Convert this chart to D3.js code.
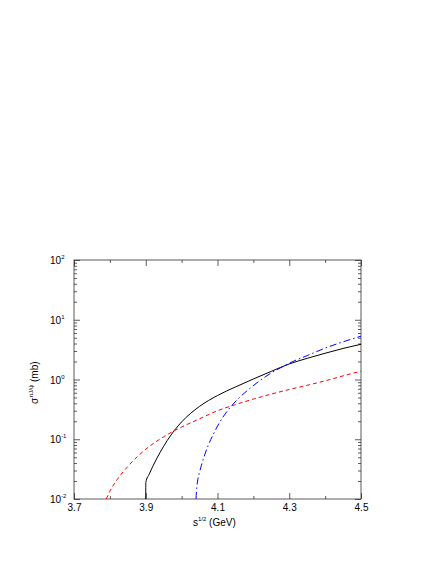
<!DOCTYPE html>
<html lang="en">
<head>
<meta charset="UTF-8">
<script src="https://cdn.jsdelivr.net/npm/d3@7"></script>
<style>
    body { margin: 0; background: #fff; }
    text { font-family: "Liberation Sans", Arial, sans-serif; }
</style>
</head>
<body>
<div id="chart"></div>
<script>
    // curve data: sqrt(s) in GeV, sigma in mb
    const solidX = [3.9, 3.9002, 3.91, 3.92, 3.93, 3.94, 3.96, 3.98, 4.0, 4.05, 4.1, 4.15, 4.2, 4.25, 4.3, 4.35, 4.4, 4.45, 4.5];
    const solidY = [0.01, 0.019, 0.0263, 0.0355, 0.0468, 0.0603, 0.0955, 0.141, 0.195, 0.355, 0.54, 0.75, 1.02, 1.37, 1.82, 2.26, 2.75, 3.31, 3.89];

    const dashX = [3.79, 3.8, 3.82, 3.85, 3.9, 3.95, 4.0, 4.05, 4.1, 4.15, 4.2, 4.25, 4.3, 4.35, 4.4, 4.45, 4.5];
    const dashY = [0.01, 0.0135, 0.021, 0.035, 0.068, 0.11, 0.16, 0.22, 0.3, 0.38, 0.47, 0.57, 0.68, 0.8, 0.95, 1.15, 1.38];

    const dotdashX = [4.04, 4.042, 4.045, 4.05, 4.055, 4.065, 4.075, 4.088, 4.1, 4.115, 4.135, 4.16, 4.19, 4.22, 4.25, 4.28, 4.31, 4.35, 4.4, 4.45, 4.5];
    const dotdashY = [0.01, 0.0151, 0.0209, 0.0282, 0.0363, 0.0562, 0.0813, 0.12, 0.166, 0.234, 0.339, 0.49, 0.708, 0.977, 1.29, 1.62, 2.0, 2.51, 3.35, 4.27, 5.31];

    const xTickLabels = [3.7, 3.9, 4.1, 4.3, 4.5];
    const xMinorTicks = [3.8, 4.0, 4.2, 4.4];
    const yDecades = [-2, -1, 0, 1, 2];

    const width = 436, height = 564;
    const margin = { top: 260, right: 75, bottom: 65, left: 74 };
    const plotW = width - margin.left - margin.right;
    const plotH = height - margin.top - margin.bottom;

    const svg = d3.select("#chart").append("svg")
        .attr("width", width)
        .attr("height", height);

    const g = svg.append("g").attr("transform", `translate(${margin.left},${margin.top})`);

    const x = d3.scaleLinear().domain([3.7, 4.5]).range([0, plotW]);
    const y = d3.scaleLog().domain([0.01, 100]).range([plotH, 0]);

    // log minor ticks
    let yMinor = [];
    for (let e = -2; e < 2; e++) {
        for (let m = 2; m <= 9; m++) yMinor.push(m * Math.pow(10, e));
    }
    const yMajor = yDecades.map(e => Math.pow(10, e));

    const axisColor = "#333";

    const styleAxis = sel => {
        sel.select(".domain").remove();
        sel.selectAll("line").attr("stroke", axisColor).attr("stroke-width", 0.8);
        sel.selectAll("text").attr("font-size", 10).attr("fill", "#000");
    };

    // bottom
    g.append("g").attr("transform", `translate(0,${plotH})`)
        .call(d3.axisBottom(x).tickValues(xTickLabels).tickSize(-6).tickPadding(5).tickFormat(d3.format(".1f")))
        .call(styleAxis);
    g.append("g").attr("transform", `translate(0,${plotH})`)
        .call(d3.axisBottom(x).tickValues(xMinorTicks).tickSize(-3).tickFormat(""))
        .call(styleAxis);
    // top
    g.append("g")
        .call(d3.axisTop(x).tickValues(xTickLabels).tickSize(-6).tickFormat(""))
        .call(styleAxis);
    g.append("g")
        .call(d3.axisTop(x).tickValues(xMinorTicks).tickSize(-3).tickFormat(""))
        .call(styleAxis);
    // left
    g.append("g")
        .call(d3.axisLeft(y).tickValues(yMajor).tickSize(-6).tickFormat(""))
        .call(styleAxis);
    g.append("g")
        .call(d3.axisLeft(y).tickValues(yMinor).tickSize(-3).tickFormat(""))
        .call(styleAxis);
    // right
    g.append("g").attr("transform", `translate(${plotW},0)`)
        .call(d3.axisRight(y).tickValues(yMajor).tickSize(-6).tickFormat(""))
        .call(styleAxis);
    g.append("g").attr("transform", `translate(${plotW},0)`)
        .call(d3.axisRight(y).tickValues(yMinor).tickSize(-3).tickFormat(""))
        .call(styleAxis);

    // frame
    g.append("rect")
        .attr("width", plotW).attr("height", plotH)
        .attr("fill", "none").attr("stroke", axisColor).attr("stroke-width", 0.8);

    // y tick labels 10^n
    const yLab = g.selectAll(".ylab").data(yDecades).enter().append("text")
        .attr("class", "ylab")
        .attr("x", -24)
        .attr("y", d => y(Math.pow(10, d)) + 4)
        .attr("font-size", 10);
    yLab.append("tspan").text("10");
    yLab.append("tspan").attr("font-size", 6).attr("dy", -5).text(d => d);

    // axis titles
    const xt = svg.append("text")
        .attr("x", 193).attr("y", 526)
        .attr("font-size", 10);
    xt.append("tspan").text("s");
    xt.append("tspan").attr("font-size", 6).attr("dy", -5).text("1/2");
    xt.append("tspan").attr("dy", 5).text(" (GeV)");

    const yt = svg.append("text")
        .attr("transform", "translate(38,404) rotate(-90)")
        .attr("font-size", 10);
    yt.append("tspan").text("σ");
    yt.append("tspan").attr("font-size", 6).attr("dy", -5).text("πJ/ψ");
    yt.append("tspan").attr("dy", 5).text(" (mb)");

    const line = d3.line()
        .x(d => x(d[0]))
        .y(d => y(d[1]))
        .curve(d3.curveMonotoneX);

    const series = [
        { xs: solidX, ys: solidY, color: "#000", dash: null },
        { xs: dashX, ys: dashY, color: "#ff0000", dash: "4,3" },
        { xs: dotdashX, ys: dotdashY, color: "#0000ff", dash: "7,3,1.5,3" }
    ];

    g.append("g")
        .selectAll("path.curve").data(series).enter().append("path")
        .attr("class", "curve")
        .attr("d", s => line(d3.zip(s.xs, s.ys)))
        .attr("fill", "none")
        .attr("stroke", s => s.color)
        .attr("stroke-width", 1)
        .attr("stroke-dasharray", s => s.dash);
</script>
</body>
</html>
